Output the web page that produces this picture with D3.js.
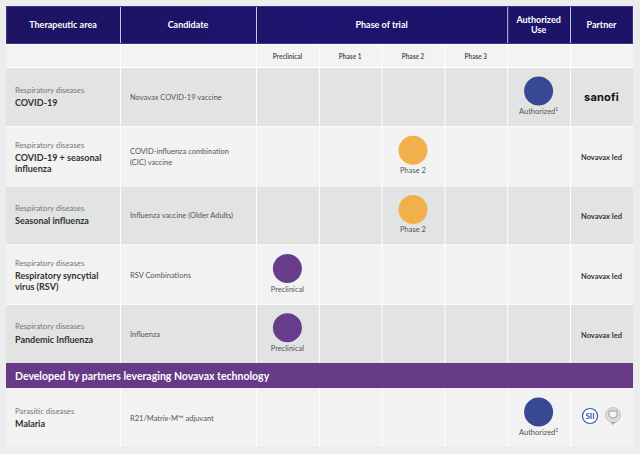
<!DOCTYPE html>
<html><head><meta charset="utf-8">
<script src="https://cdn.jsdelivr.net/npm/d3@7/dist/d3.min.js"></script>
<style>
html,body{margin:0;padding:0;background:#ececec;}
svg{display:block;font-family:Lato,"Open Sans",sans-serif;}
</style></head>
<body><svg id="chart" width="640" height="454"></svg>
<script>
// ---- data ----
const headers = ["Therapeutic area","Candidate","Phase of trial","Authorized Use","Partner"];
const stageNames = ["Preclinical","Phase 1","Phase 2","Phase 3","Authorized"];
const areaGroups = ["Respiratory diseases","Respiratory diseases","Respiratory diseases","Respiratory diseases","Respiratory diseases","Parasitic diseases"];
const diseaseNames = [["COVID-19"],["COVID-19 + seasonal","influenza"],["Seasonal influenza"],["Respiratory syncytial","virus (RSV)"],["Pandemic Influenza"],["Malaria"]];
const candidates = [["Novavax COVID-19 vaccine"],["COVID-influenza combination","(CIC) vaccine"],["Influenza vaccine (Older Adults)"],["RSV Combinations"],["Influenza"],["R21/Matrix-M\u2122 adjuvant"]];
const stages = ["Authorized","Phase 2","Phase 2","Preclinical","Preclinical","Authorized"];
const footnotes = ["1","","","","","2"];
const partners = ["sanofi","Novavax led","Novavax led","Novavax led","Novavax led","SII|Oxford"];
const bandTitle = "Developed by partners leveraging Novavax technology";
const stageColors = {"Preclinical":"#673c8a","Phase 1":"#673c8a","Phase 2":"#f2b04b","Phase 3":"#f2b04b","Authorized":"#394893"};

// ---- layout ----
const svg = d3.select("#chart");
const L = 6, R = 633, colA = 120, colB = 256, colAuthEnd = 570;
const stageX = d3.scaleBand().domain(stageNames).range([colB, colAuthEnd]);
const headTop = 6, headBot = 44, subBot = 67;
const rowY = d3.scaleBand().domain(d3.range(5)).range([subBot, 363]);
const bandTop = 363, bandBot = 388, lastTop = 388, lastBot = 447;
const rowTop = i => i < 5 ? rowY(i) : lastTop;
const rowH = i => i < 5 ? rowY.bandwidth() : lastBot - lastTop;

// header
const grad = svg.append("defs").append("linearGradient").attr("id","hg").attr("x1","0").attr("x2","1");
grad.append("stop").attr("offset","0").attr("stop-color","#1d1462");
grad.append("stop").attr("offset","0.5").attr("stop-color","#1c146e");
grad.append("stop").attr("offset","1").attr("stop-color","#1b1466");
svg.append("rect").attr("x",L).attr("y",headTop).attr("width",R-L).attr("height",headBot-headTop).attr("fill","url(#hg)");
// subheader
svg.append("rect").attr("x",L).attr("y",headBot).attr("width",R-L).attr("height",subBot-headBot).attr("fill","#f3f3f3");
// rows
d3.range(6).forEach(i=>{
  svg.append("rect").attr("x",L).attr("y",rowTop(i)).attr("width",R-L).attr("height",rowH(i))
    .attr("fill", i%2===0 ? (i===5 ? "#f2f2f2" : "#e2e3e3") : "#f2f2f2");
});
// band
svg.append("rect").attr("x",L).attr("y",bandTop).attr("width",R-L).attr("height",bandBot-bandTop).attr("fill","#673a87");
svg.append("text").attr("x",15).attr("y",(bandTop+bandBot)/2+4).attr("fill","#fff")
  .attr("font-size",10.5).attr("font-weight",700).text(bandTitle);

// grid lines
const bodyCols = [colA, colB, ...stageNames.slice(1).map(s=>stageX(s)), colAuthEnd];
const hl = svg.append("g").attr("stroke","#ffffff").attr("stroke-width",1);
bodyCols.forEach(x=>{
  hl.append("line").attr("x1",x+0.5).attr("x2",x+0.5).attr("y1",headBot).attr("y2",bandTop);
  hl.append("line").attr("x1",x+0.5).attr("x2",x+0.5).attr("y1",lastTop).attr("y2",lastBot);
});
[headBot, subBot, ...d3.range(1,5).map(i=>rowY(i))].forEach(y=>{
  hl.append("line").attr("x1",L).attr("x2",R).attr("y1",y+0.5).attr("y2",y+0.5);
});
// header separators
const hs = svg.append("g").attr("stroke","#c9c6e0").attr("stroke-width",1);
[colA, colB, colAuthEnd - stageX.bandwidth(), colAuthEnd].forEach(x=>{
  hs.append("line").attr("x1",x+0.5).attr("x2",x+0.5).attr("y1",headTop).attr("y2",headBot);
});
svg.append("rect").attr("x",L+0.5).attr("y",headTop+0.5).attr("width",R-L-1).attr("height",headBot-headTop-1)
  .attr("fill","none").attr("stroke","#3a3390").attr("stroke-width",1);

// header text
const authX0 = stageX("Authorized");
const headCenters = [(L+colA)/2, (colA+colB)/2, (colB+authX0)/2, authX0+stageX.bandwidth()/2, (colAuthEnd+R)/2];
const ht = svg.append("g").attr("fill","#fff").attr("font-size",9).attr("font-weight",700).attr("text-anchor","middle");
headers.forEach((h,i)=>{
  if(h==="Authorized Use"){
    const t = ht.append("text").attr("x",headCenters[i]).attr("y",23);
    t.append("tspan").attr("x",headCenters[i]).text("Authorized");
    t.append("tspan").attr("x",headCenters[i]).attr("dy",10).text("Use");
  } else {
    ht.append("text").attr("x",headCenters[i]).attr("y",28).text(h);
  }
});
// subheader labels
svg.append("g").attr("fill","#555").attr("font-size",6.5).attr("font-weight",700).attr("text-anchor","middle")
  .selectAll("text").data(stageNames.slice(0,4)).join("text")
  .attr("x",d=>stageX(d)+stageX.bandwidth()/2).attr("y",58.5).text(d=>d);

// row texts
d3.range(6).forEach(i=>{
  const t = rowTop(i), two = diseaseNames[i].length>1;
  svg.append("text").attr("x",15).attr("y",t+(two?21.5:25.5)).attr("fill","#777").attr("font-size",7.8).text(areaGroups[i]);
  const dn = svg.append("text").attr("x",15).attr("y",t+(two?34.5:39)).attr("fill","#333").attr("font-size",9).attr("font-weight",700);
  diseaseNames[i].forEach((n,k)=>{
    dn.append("tspan").attr("x",15).attr("dy",k===0?0:10.8).text(n);
  });
  const cl = candidates[i];
  const ct = svg.append("text").attr("x",130).attr("y",t+33-(cl.length-1)*5.5).attr("fill","#555").attr("font-size",7.5);
  cl.forEach((c,k)=>{
    ct.append("tspan").attr("x",130).attr("dy",k===0?0:11).text(c);
  });
  // stage marker
  const cx = stageX(stages[i]) + stageX.bandwidth()/2;
  svg.append("circle").attr("cx",cx).attr("cy",t+24).attr("r",14.5).attr("fill",stageColors[stages[i]]);
  const lab = svg.append("text").attr("x",cx).attr("y",t+47).attr("text-anchor","middle").attr("fill","#555").attr("font-size",7.5)
    .text(stages[i]);
  if(footnotes[i]) lab.append("tspan").attr("dy",-3).attr("font-size",5).text(footnotes[i]);
  // partner
  const px = (colAuthEnd+R)/2;
  if(partners[i]==="sanofi"){
    svg.append("text").attr("x",px).attr("y",t+34).attr("text-anchor","middle").attr("fill","#111").attr("font-size",11).attr("font-weight",700).attr("font-family","Inter, Lato, sans-serif").attr("letter-spacing",0.2).text("sanofi");
  } else if(partners[i]==="SII|Oxford"){
    const cy = t+28;
    svg.append("circle").attr("cx",590).attr("cy",cy).attr("r",7.5).attr("fill","#fff").attr("stroke","#3a56a8").attr("stroke-width",1.2);
    svg.append("text").attr("x",590).attr("y",cy+3).attr("text-anchor","middle").attr("fill","#2f4ea3").attr("font-size",8).attr("font-weight",700).text("SII");
    svg.append("circle").attr("cx",613).attr("cy",cy-1).attr("r",7.5).attr("fill","#dcdcdc").attr("stroke","#a8a8a8").attr("stroke-width",1).attr("stroke-dasharray","1,0.8");
    svg.append("path").attr("d",`M${609} ${cy-5} L${617} ${cy-5} L${617} ${cy} Q${613} ${cy+4} ${609} ${cy} Z`).attr("fill","#f4f4f4").attr("stroke","#8c8c8c").attr("stroke-width",0.8);
    svg.append("path").attr("d",`M${610} ${cy+6} L${616} ${cy+6} L${613} ${cy+9} Z`).attr("fill","#aaa");
  } else {
    svg.append("text").attr("x",px).attr("y",t+34).attr("text-anchor","middle").attr("fill","#333").attr("font-size",7.5).attr("font-weight",700).text(partners[i]);
  }
});
</script></body></html>
